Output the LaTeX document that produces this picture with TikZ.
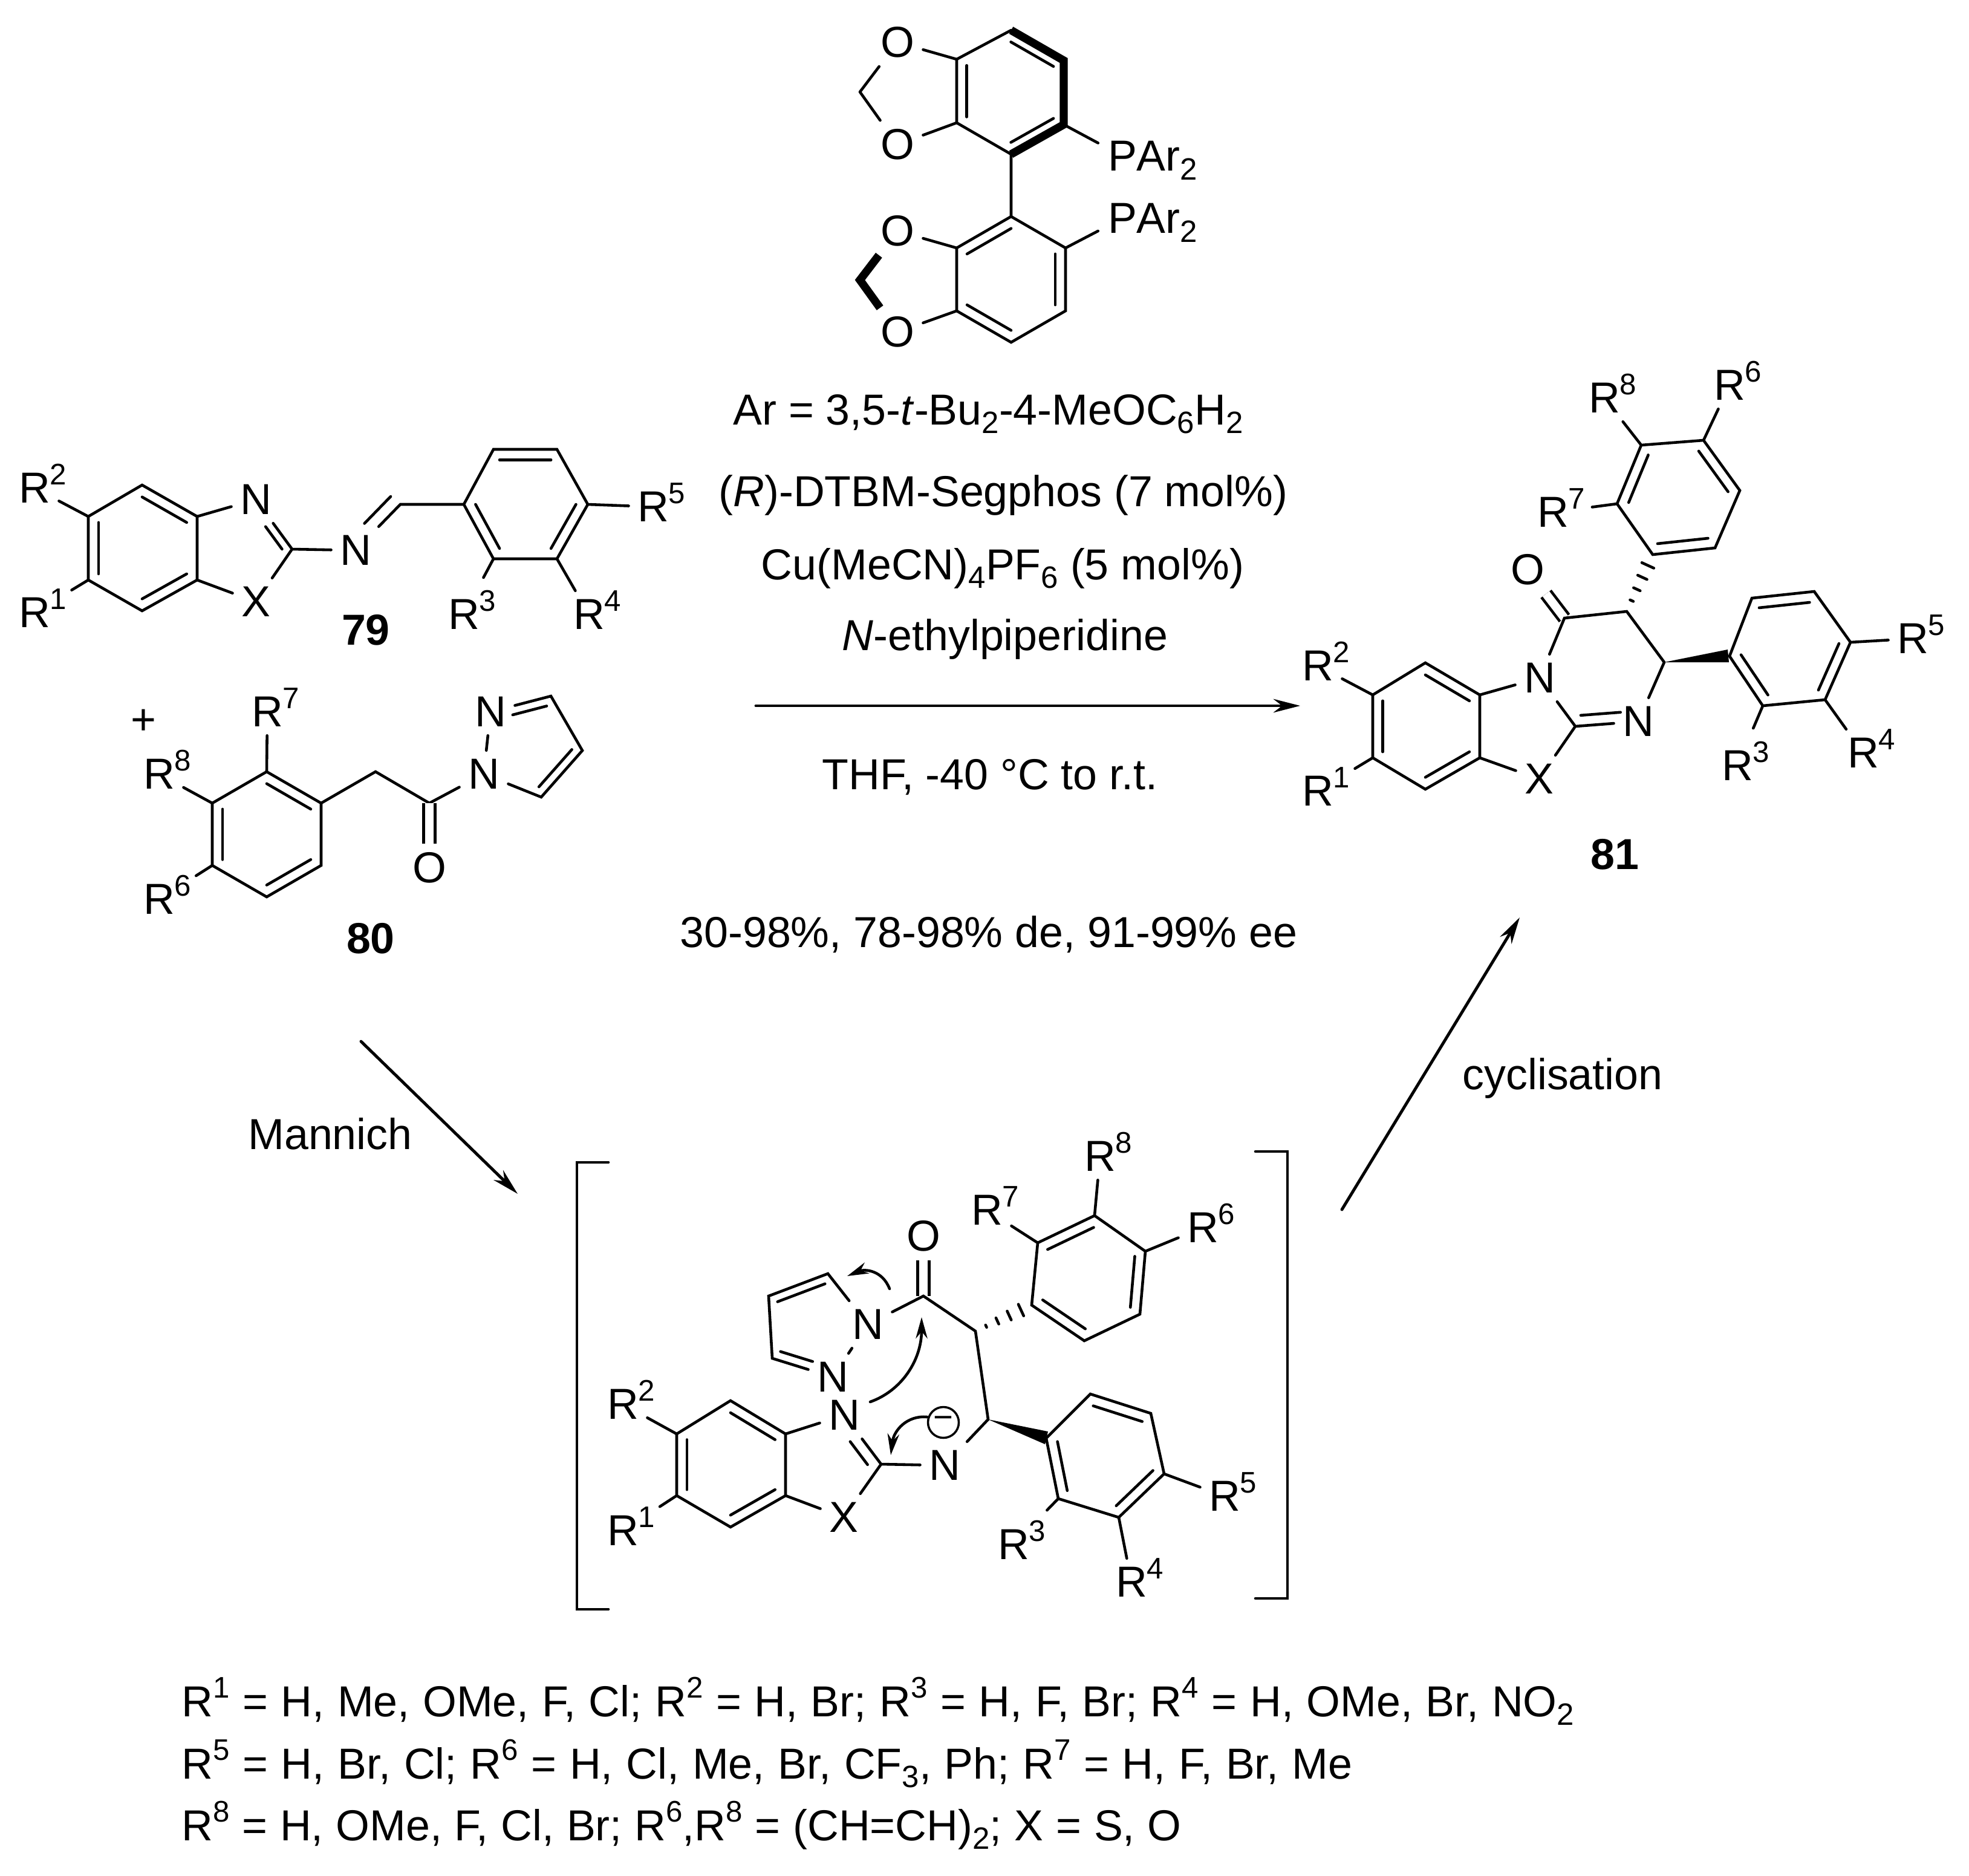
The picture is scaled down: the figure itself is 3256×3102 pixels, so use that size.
\documentclass[tikz,border=0pt]{standalone}
\usepackage{fontspec}
\setmainfont{Liberation Sans}
\usepackage{tikz}
\usetikzlibrary{calc, arrows.meta}

\newcommand{\Rs}[1]{R\rlap{\smash{\raisebox{8.6pt}{\fontsize{14}{15}\selectfont #1}}}}
\newcommand{\sub}[1]{\raisebox{-4.2pt}{\fontsize{14.5}{15}\selectfont #1}}
\newcommand{\sups}[1]{\raisebox{8.6pt}{\fontsize{14}{15}\selectfont #1}}

\tikzset{
  bond/.style={line width=1.3pt, line cap=round},
  bold/.style={line width=3.8pt, line join=miter, line cap=butt},
  atom/.style={inner sep=3.5pt},
  txt/.style={inner sep=0pt},
  baseline text/.style={inner sep=0pt, anchor=base},
  supbond/.style={shorten >=7pt},
  cno/.style={double, double distance=14*0.2845pt, line cap=butt},
  rxn/.style={line width=1.4pt, -{Stealth[length=12.6pt,width=6.4pt]}},
  curly/.style={line width=1.3pt, -{Stealth[length=10pt,width=5.5pt]}},
  every node/.style={font=\fontsize{20.4}{24}\selectfont}
}

\begin{document}
\begin{tikzpicture}[x=0.01cm,y=-0.01cm,bond]
\useasboundingbox (0,0) rectangle (3256,3102);

% ligand
\foreach \n/\x/\y in {a1/1672/50,a2/1759/100,a3/1759/206,a4/1672/255,a5/1582/203,a6/1582/98,
  ac/1670/152,am1/1422/152,
  b1/1672/358,b2/1762/410,b3/1762/514,b4/1672/566,b5/1582/514,b6/1582/410,
  bc/1672/462,bm1/1422/463}
  \coordinate (\n) at (\x,\y);
\node[atom] (ao1) at (1484,70) {O};
\node[atom] (ao2) at (1484,239) {O};
\node[atom] (bo1) at (1484,382) {O};
\node[atom] (bo2) at (1484,549) {O};
\node[atom,inner sep=4pt] (ap) at (1856,258) {P\rlap{\smash{Ar\sub{2}}}};
\node[atom,inner sep=4pt] (bp) at (1856,361) {P\rlap{\smash{Ar\sub{2}}}};
\draw (a1) -- (a6) -- (a5) -- (a4);
\draw[bold] (a1) -- (a2) -- (a3) -- (a4);
\draw (a6) -- (ao1) (am1) -- (ao1) (am1) -- (ao2) (ao2) -- (a5);
\draw (a3) -- (ap) (a4) -- (b1) (b2) -- (bp);
\foreach \p/\q in {a1/a2,a3/a4,a5/a6} \draw ($(\p)!.19!(ac)$) -- ($(\q)!.19!(ac)$);
\draw (b1) -- (b2) -- (b3) -- (b4) -- (b5) -- (b6) -- cycle;
\foreach \p/\q in {b1/b6,b2/b3,b4/b5} \draw ($(\p)!.19!(bc)$) -- ($(\q)!.19!(bc)$);
\draw (b6) -- (bo1) (b5) -- (bo2);
\draw[bold] (bo1) -- (bm1) -- (bo2);

% imine 79
\foreach \n/\x/\y in {c1/235/802,c2/326/854,c3/326/959,c4/235/1010,c5/146/959,c6/146/854,
  cc/235/906,c7/483/908,c8/662/834,
  d1/767/834,d2/816/743,d3/921/743,d4/972/834,d5/921/924,d6/816/924,dc/869/834,
  tc/400/908}
  \coordinate (\n) at (\x,\y);
\node[atom] (cn) at (423,826) {N};
\node[atom] (cx) at (423,995) {X};
\node[atom] (cn2) at (588,910) {N};
\node[atom] (r2a) at (57,807) {\Rs{2}};
\node[atom] (r1a) at (57,1013) {\Rs{1}};
\node[atom] (r3a) at (767,1016) {\Rs{3}};
\node[atom] (r4a) at (974,1016) {\Rs{4}};
\node[atom] (r5a) at (1080,838) {\Rs{5}};
\node[txt] (n79) at (605,1042) {\textbf{79}};
\draw (c1) -- (c2) -- (c3) -- (c4) -- (c5) -- (c6) -- cycle;
\foreach \p/\q in {c1/c2,c3/c4,c5/c6} \draw ($(\p)!.19!(cc)$) -- ($(\q)!.19!(cc)$);
\draw (c2) -- (cn) -- (c7) -- (cx) -- (c3) (c7) -- (cn2) -- (c8) -- (d1);
\draw[shorten >=10pt] ($(c7)!.2!(tc)$) -- ($(cn)!.2!(tc)$);
\draw (d1) -- (d2) -- (d3) -- (d4) -- (d5) -- (d6) -- cycle;
\foreach \p/\q in {d1/d6,d2/d3,d4/d5} \draw ($(\p)!.19!(dc)$) -- ($(\q)!.19!(dc)$);
\draw[shorten >=12.5pt] ($(c8)+(-16,-13)$) -- ($(cn2)+(-16,-13)$);
\draw (c6) -- (r2a) (d5) -- (r4a) (d4) -- (r5a);
\draw[supbond] (c5) -- (r1a);
\draw[supbond] (d6) -- (r3a);

% acyl pyrazole 80
\foreach \n/\x/\y in {e1/441/1276,e2/531/1328,e3/531/1431,e4/441/1483,e5/351/1431,e6/351/1328,
  ec/441/1380,e7/621/1276,e8/710/1328,f1/911/1151,f2/963/1241,f3/895/1318,fc/876/1233}
  \coordinate (\n) at (\x,\y);
\node[txt] (pl) at (237,1194) {+};
\node[atom] (r7b) at (442,1177) {\Rs{7}};
\node[atom] (r8b) at (263,1280) {\Rs{8}};
\node[atom] (r6b) at (263,1487) {\Rs{6}};
\node[atom] (eo) at (710,1435) {O};
\node[atom] (fn1) at (800,1280) {N};
\node[atom] (fn2) at (811,1177) {N};
\node[txt] (n80) at (613,1552) {\textbf{80}};
\draw (e1) -- (e2) -- (e3) -- (e4) -- (e5) -- (e6) -- cycle;
\foreach \p/\q in {e1/e2,e3/e4,e5/e6} \draw ($(\p)!.19!(ec)$) -- ($(\q)!.19!(ec)$);
\draw (e1) -- (r7b) (e6) -- (r8b) (e2) -- (e7) -- (e8) -- (fn1);
\draw[supbond] (e5) -- (r6b);
\draw[cno] (e8) -- (eo);
\draw (fn1) -- (fn2) -- (f1) -- (f2) -- (f3) -- (fn1);
\draw[shorten >=7pt] ($(f1)!.2!(fc)$) -- ($(fn2)!.2!(fc)$);
\draw ($(f2)!.2!(fc)$) -- ($(f3)!.2!(fc)$);

% product 81
\foreach \n/\x/\y in {g1/2357/1096,g2/2447/1149,g3/2447/1253,g4/2357/1305,g5/2270/1253,g6/2270/1149,
  gc/2357/1201,g7/2605/1201,g8/2587/1022,g9/2690/1011,g10/2752/1095,hc/2650/1110,
  u1/2733/917,u2/2674/833,u3/2714/736,u4/2817/728,u5/2877/811,u6/2836/906,uc/2775/822,
  l1/2860/1085,l2/2897/989,l3/3000/978,l4/3060/1062,l5/3018/1157,l6/2915/1167,lc/2960/1073}
  \coordinate (\n) at (\x,\y);
\node[atom] (gn) at (2546,1121) {N};
\node[atom] (gx) at (2545,1288) {X};
\node[atom] (gn2) at (2709,1193) {N};
\node[atom] (go) at (2526,942) {O};
\node[atom] (r2c) at (2179,1101) {\Rs{2}};
\node[atom] (r1c) at (2179,1308) {\Rs{1}};
\node[atom] (r7c) at (2568,847) {\Rs{7}};
\node[atom] (r8c) at (2653,658) {\Rs{8}};
\node[atom] (r6c) at (2860,637) {\Rs{6}};
\node[atom] (r5c) at (3163,1056) {\Rs{5}};
\node[atom] (r4c) at (3081,1245) {\Rs{4}};
\node[atom] (r3c) at (2873,1266) {\Rs{3}};
\node[txt] (n81) at (2670,1413) {\textbf{81}};
\draw (g1) -- (g2) -- (g3) -- (g4) -- (g5) -- (g6) -- cycle;
\foreach \p/\q in {g1/g2,g3/g4,g5/g6} \draw ($(\p)!.19!(gc)$) -- ($(\q)!.19!(gc)$);
\draw[cno] (g8) -- (go);
\draw (g2) -- (gn) -- (g7) -- (gx) -- (g3) (g7) -- (gn2) -- (g10) (gn) -- (g8) -- (g9) -- (g10);
\draw (g6) -- (r2c);
\draw[supbond] (g5) -- (r1c);
\draw[shorten >=5pt] ($(g7)!.2!(hc)$) -- ($(gn2)!.2!(hc)$);
\draw (u1) -- (u2) -- (u3) -- (u4) -- (u5) -- (u6) -- cycle;
\foreach \p/\q in {u1/u6,u2/u3,u4/u5} \draw ($(\p)!.19!(uc)$) -- ($(\q)!.19!(uc)$);
\draw (u3) -- (r8c) (u4) -- (r6c);
\draw[supbond] (u2) -- (r7c);
\foreach \t/\w in {.19/.85,.39/1.7,.6/2.4,.81/3.1}
  \draw ($($(g9)!\t!(u1)$)!\w pt!90:(u1)$) -- ($($(g9)!\t!(u1)$)!-\w pt!90:(u1)$);
\draw (l1) -- (l2) -- (l3) -- (l4) -- (l5) -- (l6) -- cycle;
\foreach \p/\q in {l1/l6,l2/l3,l4/l5} \draw ($(\p)!.19!(lc)$) -- ($(\q)!.19!(lc)$);
\draw (l4) -- (r5c) (l5) -- (r4c);
\draw[supbond] (l6) -- (r3c);
\fill (g10) -- ($(l1)+(-3,-11)$) -- ($(l1)+(-1,10)$) -- cycle;

% intermediate
\foreach \n/\x/\y in {k1/1208/2316,k2/1299/2371,k3/1299/2473,k4/1208/2525,k5/1119/2473,k6/1119/2371,
  kc/1208/2421,k7/1457/2421,tk/1345/2425,k8/1634/2347,k9/1613/2201,k10/1527/2143,
  p1/1369/2106,p2/1271/2143,p3/1277/2246,pc/1345/2190,
  m1/1706/2158,m2/1716/2055,m3/1810/2010,m4/1894/2069,m5/1885/2173,m6/1793/2217,mc/1802/2113,
  n1/1730/2378,n2/1803/2305,n3/1903/2337,n4/1925/2437,n5/1850/2509,n6/1750/2478,nc/1828/2408,
  lb1/1006/1922,lb2/954/1922,lb3/954/2661,lb4/1006/2661,
  rb1/2076/1904,rb2/2129/1904,rb3/2129/2643,rb4/2076/2643,
  ca1/1471/2131,ca2/1401/2110,cb1/1439/2318,cb2/1524/2178,cd1/1533/2343,cd2/1473/2406}
  \coordinate (\n) at (\x,\y);
\node[atom] (kn) at (1396,2340) {N};
\node[atom] (kx) at (1395,2509) {X};
\node[atom] (kn2) at (1562,2423) {N};
\node[atom] (ko) at (1527,2044) {O};
\node[atom] (pn1) at (1435,2190) {N};
\node[atom] (pn2) at (1377,2277) {N};
\node[atom] (r2d) at (1030,2322) {\Rs{2}};
\node[atom] (r1d) at (1030,2531) {\Rs{1}};
\node[atom] (r7d) at (1632,2001) {\Rs{7}};
\node[atom] (r8d) at (1819,1912) {\Rs{8}};
\node[atom] (r6d) at (1989,2030) {\Rs{6}};
\node[atom] (r5d) at (2025,2474) {\Rs{5}};
\node[atom] (r3d) at (1676,2554) {\Rs{3}};
\node[atom] (r4d) at (1871,2616) {\Rs{4}};
\node[circle,draw,line width=1pt,inner sep=0pt,minimum size=14.5pt,font=\fontsize{16}{18}\selectfont] (nq) at (1560,2352) {\textminus};
\draw (lb1) -- (lb2) -- (lb3) -- (lb4);
\draw (rb1) -- (rb2) -- (rb3) -- (rb4);
\draw (k1) -- (k2) -- (k3) -- (k4) -- (k5) -- (k6) -- cycle;
\foreach \p/\q in {k1/k2,k3/k4,k5/k6} \draw ($(\p)!.19!(kc)$) -- ($(\q)!.19!(kc)$);
\draw[cno] (k10) -- (ko);
\draw (k2) -- (kn) -- (k7) -- (kx) -- (k3) (k7) -- (kn2) -- (k8) -- (k9) -- (k10) -- (pn1);
\draw[shorten >=9.5pt] ($(k7)!.2!(tk)$) -- ($(kn)!.2!(tk)$);
\draw (pn1) -- (p1) -- (p2) -- (p3) -- (pn2) -- (pn1);
\draw ($(p1)!.2!(pc)$) -- ($(p2)!.2!(pc)$);
\draw[shorten >=8pt] ($(p3)!.2!(pc)$) -- ($(pn2)!.2!(pc)$);
\draw (m1) -- (m2) -- (m3) -- (m4) -- (m5) -- (m6) -- cycle;
\foreach \p/\q in {m1/m6,m2/m3,m4/m5} \draw ($(\p)!.19!(mc)$) -- ($(\q)!.19!(mc)$);
\foreach \t/\w in {.19/.6,.39/1.6,.6/2.3,.81/3}
  \draw ($($(k9)!\t!(m1)$)!\w pt!90:(m1)$) -- ($($(k9)!\t!(m1)$)!-\w pt!90:(m1)$);
\draw (n1) -- (n2) -- (n3) -- (n4) -- (n5) -- (n6) -- cycle;
\foreach \p/\q in {n1/n6,n2/n3,n4/n5} \draw ($(\p)!.19!(nc)$) -- ($(\q)!.19!(nc)$);
\fill (k8) -- ($(n1)+(3,-11)$) -- ($(n1)+(-2,10)$) -- cycle;
\draw (k6) -- (r2d) (m2) -- (r7d) (m3) -- (r8d) (m4) -- (r6d);
\draw (n4) -- (r5d) (n5) -- (r4d);
\draw[supbond] (k5) -- (r1d);
\draw[supbond] (n6) -- (r3d);
\draw[curly] (ca1) .. controls (1459,2100) and (1430,2098) .. (ca2);
\draw[curly] (cb1) .. controls (1490,2300) and (1524,2250) .. (cb2);
\draw[curly] (cd1) .. controls (1500,2340) and (1478,2365) .. (cd2);

% conditions
\node[baseline text] (t1) at (1634,702) {Ar = 3,5-\textit{t}-Bu\sub{2}-4-MeOC\sub{6}H\sub{2}};
\node[baseline text] (t2) at (1659,837) {(\textit{R})-DTBM-Segphos (7 mol\%)};
\node[baseline text] (t3) at (1658,958) {Cu(MeCN)\sub{4}PF\sub{6} (5 mol\%)};
\node[baseline text] (t4) at (1662,1075) {\textit{N}-ethylpiperidine};
\node[baseline text] (t5) at (1637,1305) {THF, -40 °C to r.t.};
\node[baseline text] (t6) at (1635,1566) {30-98\%, 78-98\% de, 91-99\% ee};
\node[txt] (t7) at (546,1875) {Mannich};
\node[txt] (t8) at (2584,1783) {cyclisation};
\coordinate (s1) at (1250,1167);
\coordinate (s2) at (2150,1167);
\coordinate (s3) at (597,1722);
\coordinate (s4) at (856,1974);
\coordinate (s5) at (2219,2000);
\coordinate (s6) at (2513,1517);
\draw[rxn] (s1) -- (s2);
\draw[rxn] (s3) -- (s4);
\draw[rxn] (s5) -- (s6);

% substituents
\node[baseline text,anchor=base west] (v1) at (298,2838) {\spaceskip=6.16pt R\sups{1} = H, Me, OMe, F, Cl; R\sups{2} = H, Br; R\sups{3} = H, F, Br; R\sups{4} = H, OMe, Br, NO\sub{2}};
\node[baseline text,anchor=base west] (v2) at (298,2941) {\spaceskip=6.2pt R\sups{5} = H, Br, Cl; R\sups{6} = H, Cl, Me, Br, CF\sub{3}, Ph; R\sups{7} = H, F, Br, Me};
\node[baseline text,anchor=base west] (v3) at (298,3043) {\spaceskip=5.93pt R\sups{8} = H, OMe, F, Cl, Br; R\sups{6},R\sups{8} = (CH=CH)\sub{2}; X = S, O};

\end{tikzpicture}
\end{document}
